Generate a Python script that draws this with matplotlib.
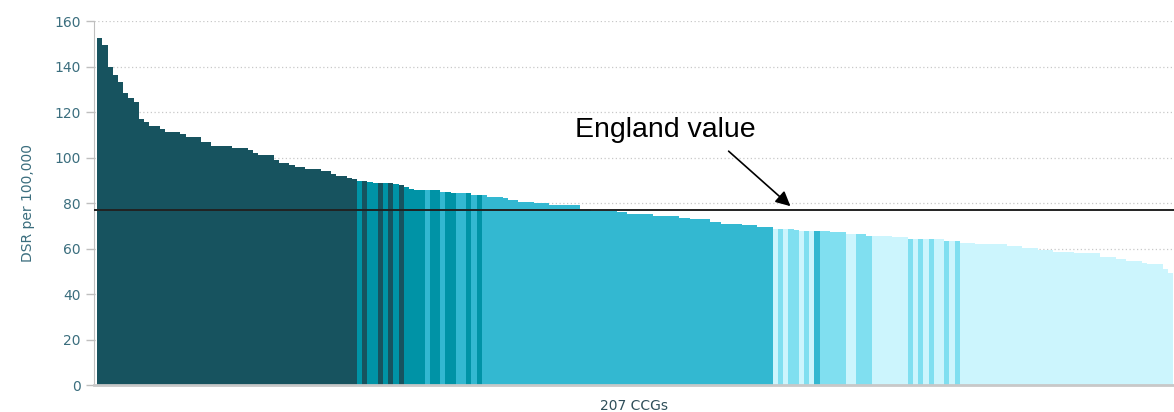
import matplotlib
matplotlib.use("Agg")
import matplotlib.pyplot as plt
import numpy as np

# valores DSR por CCG (ordenados de mayor a menor)
dsr_alto = [152.5, 149.5, 140.0, 136.4, 133.3, 128.5, 126.3, 124.5, 117.0, 115.5,
            113.8, 113.8, 112.4, 111.4, 111.4, 111.4, 110.5, 109.1, 109.1, 109.1,
            106.6, 106.6, 105.2, 105.2, 105.2, 105.2, 104.4, 104.4, 104.4, 103.4,
            101.8, 101.2, 101.2, 101.2, 98.7, 97.4, 97.4, 96.7, 95.8, 95.8,
            95.1, 95.1, 95.1, 94.2, 94.2, 92.7, 92.0, 92.0, 91.2, 90.4]
dsr_medio = [89.5, 89.5, 89.1, 89.0, 89.0, 89.0, 89.0, 88.4, 88.1, 87.2,
             86.3, 85.7, 85.7, 85.7, 85.7, 85.7, 85.0, 85.0, 84.2, 84.2,
             84.2, 84.2, 83.5, 83.5, 83.5, 82.8, 82.8, 82.8, 82.1, 81.4,
             81.4, 80.6, 80.6, 80.6, 79.9, 79.9, 79.9, 79.1, 79.1, 79.1,
             79.1, 79.1, 79.1, 77.4, 77.4, 76.6, 76.6, 76.6, 76.6, 76.6,
             75.9, 75.9, 75.2, 75.2, 75.2, 75.2, 75.2, 74.3, 74.3, 74.3,
             74.3, 74.3, 73.3, 73.3, 72.8, 72.8, 72.8, 72.8, 71.8, 71.8,
             70.8, 70.8, 70.8, 70.8, 70.3, 70.3, 70.3, 69.6, 69.6, 69.6]
dsr_bajo = [68.6, 68.6, 68.6, 68.6, 68.1, 67.8, 67.8, 67.8, 67.8, 67.8,
            67.8, 67.1, 67.1, 67.1, 66.4, 66.4, 66.4, 66.4, 65.5, 65.5,
            65.5, 65.5, 65.5, 64.9, 64.9, 64.9, 64.4, 64.4, 64.0, 64.0,
            64.0, 64.0, 64.0, 63.1, 63.1, 63.1, 62.6, 62.6, 62.6, 61.8,
            61.8, 61.8, 61.8, 61.8, 61.8, 61.0, 61.0, 61.0, 60.2, 60.2,
            60.2, 59.4, 59.4, 59.4, 58.6, 58.6, 58.6, 58.6, 57.9, 57.9,
            57.9, 57.9, 57.9, 56.2, 56.2, 56.2, 55.3, 55.3, 54.5, 54.5,
            54.5, 53.8, 53.0, 53.0, 53.0, 50.9, 49.1]
valores = dsr_alto + dsr_medio + dsr_bajo

# grupo de cada barra (1 = más oscuro ... 5 = más claro)
grupos = ([1] * 50
          + [2, 1, 2, 2, 1, 2, 1, 2, 1, 2, 2, 2, 2, 3, 2, 2, 3, 2, 2, 3, 3, 2, 3, 2]
          + [3] * 56
          + [5, 4, 5, 4, 4, 5, 4, 5, 3, 4, 4, 4, 4, 4, 5, 5, 4, 4, 4]
          + [5] * 7
          + [4, 5, 4, 5, 4, 5, 5, 4, 5, 4]
          + [5] * 41)

valor_inglaterra = 77.0
etiquetas_y = [0, 20, 40, 60, 80, 100, 120, 140, 160]

colores = {1: "#17535F", 2: "#0093A6", 3: "#33B8D1", 4: "#80DFF0", 5: "#CCF5FD"}

plt.rcParams["font.family"] = ["DejaVu Sans"]

fig = plt.figure(figsize=(11.74, 4.12), dpi=100)
ax = fig.add_axes([0.0801, 0.0655, 0.9199, 0.8835])

x = np.arange(len(valores))
ax.bar(x, valores, width=1.0, color=[colores[g] for g in grupos],
       linewidth=0, zorder=2)

ax.axhline(valor_inglaterra, color="#222222", lw=1.4, zorder=3)

ax.set_xlim(-1.1, len(valores) - 0.3)
ax.set_ylim(0, 160)
ax.set_yticks(etiquetas_y)
ax.set_xticks([])
ax.tick_params(axis="y", colors="#BFBFBF", labelcolor="#3B6E7E",
               labelsize=10, length=6, width=1)
ax.yaxis.grid(True, linestyle=(0, (1, 2)), color="#C8C8C8", lw=0.9, zorder=0)
ax.set_axisbelow(True)

for lado in ["top", "right"]:
    ax.spines[lado].set_visible(False)
ax.spines["left"].set_color("#BFBFBF")
ax.spines["bottom"].set_color("#C8C8C8")
ax.spines["bottom"].set_linewidth(2)

ax.set_ylabel("DSR per 100,000", color="#3B6E7E", fontsize=10, labelpad=14)
ax.set_xlabel("207 CCGs", color="#2F4F5A", fontsize=10, labelpad=10)

ax.text(108.9, 112, "England value", fontsize=20.5, family="Liberation Sans",
        ha="center", va="center", color="black", zorder=4)
ax.annotate("", xy=(133.3, 77.8), xytext=(120.6, 103.6),
            arrowprops=dict(arrowstyle="-|>", color="black", lw=1.2,
                            mutation_scale=22), zorder=4)

fig.savefig("out.png", dpi=100)
